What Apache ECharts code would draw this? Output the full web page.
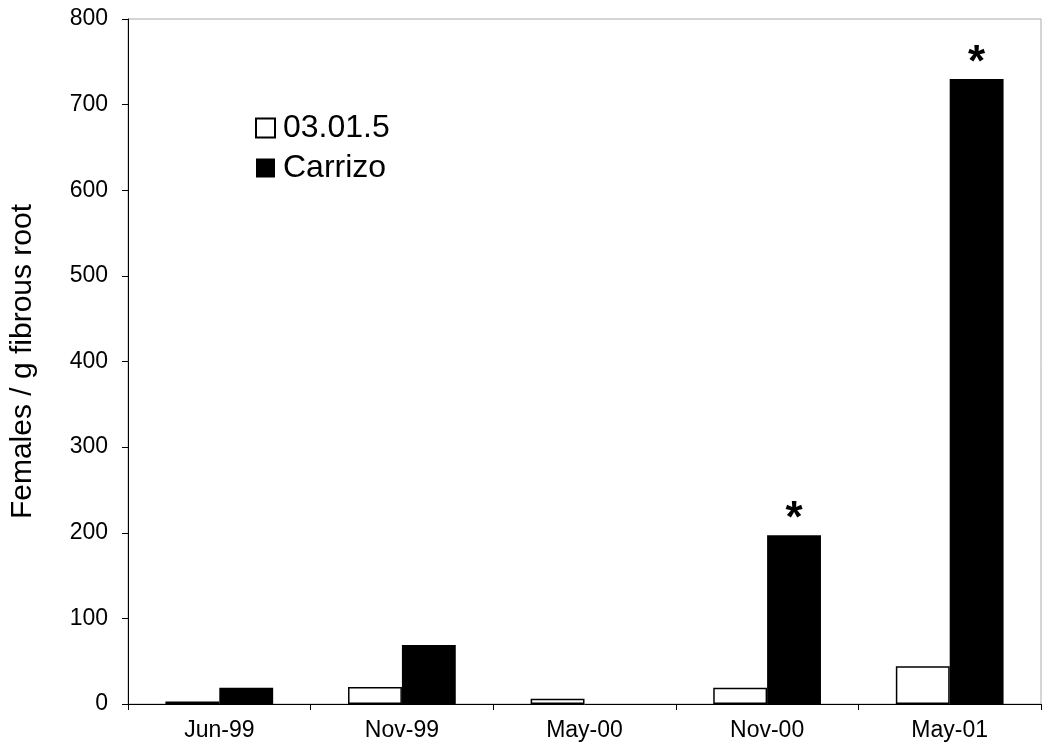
<!DOCTYPE html>
<html>
<head>
<meta charset="utf-8">
<script src="https://cdn.jsdelivr.net/npm/echarts@6/dist/echarts.min.js"></script>
<style>html,body{margin:0;padding:0;background:#fff;}#c{width:1043px;height:755px;}</style>
</head>
<body>
<div id="c"></div>
<script>
const categories = ['Jun-99', 'Nov-99', 'May-00', 'Nov-00', 'May-01'];
const series0301 = [3, 20, 6, 19, 44];
const seriesCarrizo = [19, 69, 0, 197, 730];
const carrizoMarks = ['', '', '', '*', '*'];
const yTicks = { min: 0, max: 800, interval: 100 };

const chart = echarts.init(document.getElementById('c'));
const font = 'Liberation Sans, Arial, sans-serif';
chart.setOption({
  animation: false,
  backgroundColor: '#fff',
  grid: { left: 126, top: 19, right: 2, bottom: 51, show: true, borderColor: '#aaa', borderWidth: 1, containLabel: false },
  legend: {
    orient: 'vertical', left: 250, top: 107, itemWidth: 19, itemHeight: 19, itemGap: 8,
    icon: 'rect',
    textStyle: { fontFamily: font, fontSize: 32, lineHeight: 30, color: '#000', padding: [0, 0, 0, 3] },
    data: ['03.01.5', 'Carrizo']
  },
  xAxis: {
    type: 'category', data: categories,
    axisLine: { lineStyle: { color: '#000', width: 1 } },
    axisTick: { show: true, length: 6, lineStyle: { color: '#000' } },
    axisLabel: { fontFamily: font, fontSize: 23, color: '#000', margin: 15 }
  },
  yAxis: {
    type: 'value', min: yTicks.min, max: yTicks.max, interval: yTicks.interval,
    name: 'Females / g fibrous root', nameLocation: 'middle', nameGap: 90,
    nameTextStyle: { fontFamily: font, fontSize: 30, color: '#000' },
    axisLine: { show: true, lineStyle: { color: '#000', width: 1 } },
    axisTick: { show: true, length: 6, lineStyle: { color: '#000' } },
    splitLine: { show: false },
    axisLabel: { fontFamily: font, fontSize: 23, color: '#000', margin: 20 }
  },
  series: [
    {
      name: '03.01.5', type: 'bar', data: series0301,
      barCategoryGap: '41%', barGap: '0%',
      itemStyle: { color: '#fff', borderColor: '#000', borderWidth: 1.5 }
    },
    {
      name: 'Carrizo', type: 'bar', data: seriesCarrizo,
      itemStyle: { color: '#000', borderWidth: 0 },
      label: {
        show: true, position: 'top', distance: -7,
        formatter: p => carrizoMarks[p.dataIndex],
        fontFamily: font, fontSize: 44, fontWeight: 'bold', color: '#000'
      }
    }
  ]
});
</script>
</body>
</html>
